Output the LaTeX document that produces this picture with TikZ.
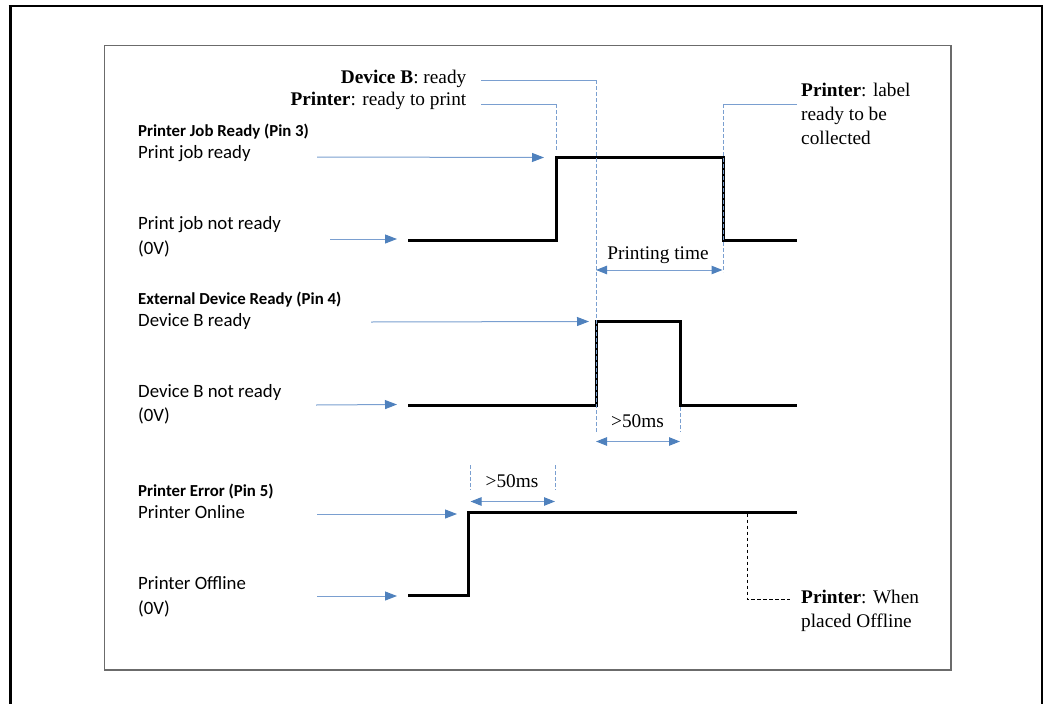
\documentclass[tikz,border=0pt]{standalone}
\usepackage{fontspec}
\setmainfont{Liberation Serif}
\newfontfamily\calfont{Carlito}
\usetikzlibrary{arrows.meta}
\definecolor{lineblue}{HTML}{7A9FD0}
\definecolor{tipblue}{HTML}{4F81BD}
\definecolor{framegray}{HTML}{6B6B6B}
\begin{document}
\begin{tikzpicture}[x=1pt,y=-1pt,
  sig/.style={line width=3pt, black, line join=miter},
  pointer/.style={lineblue, line width=1pt, -{Triangle[length=12pt,width=9pt,color=tipblue]}},
  span/.style={lineblue, line width=1pt, {Triangle[length=11pt,width=8.5pt,color=tipblue]}-{Triangle[length=11pt,width=8.5pt,color=tipblue]}},
  guide/.style={lineblue, line width=0.8pt, dash pattern=on 3.5pt off 2.5pt},
  lead/.style={lineblue, line width=0.8pt},
  offlead/.style={black, line width=0.8pt, dash pattern=on 3.5pt off 2.5pt},
  head/.style={inner sep=0pt, anchor=base west, font=\calfont\bfseries\fontsize{16.8}{19}\selectfont},
  lvl/.style={inner sep=0pt, anchor=base west, font=\calfont\fontsize{18.8}{22}\selectfont},
  note/.style={inner sep=0pt, font=\fontsize{19.3}{24}\selectfont},
  ]
\useasboundingbox (0,0) rectangle (1044,704);
% outer page border
\draw[black, line width=3pt] (10,704) -- (10,6);
\draw[black, line width=2.5pt] (8.5,6) -- (1042,6);
\draw[black, line width=1.2pt] (1042,5) -- (1042,704);
% inner frame
\draw[framegray, line width=1.2pt] (104.7,45.7) rectangle (951,670);

% ---------- left labels ----------
\node[head] (h3) at (138,136) {Printer Job Ready (Pin 3)};
\node[lvl] (pjr) at (138,158.3) {Print job ready};
\node[lvl] (pjn) at (138,229.5) {Print job not ready};
\node[lvl] (z3) at (138,254.5) {(0V)};
\node[head] (h4) at (138,304.3) {External Device Ready (Pin 4)};
\node[lvl] (dbr) at (138,326.7) {Device B ready};
\node[lvl] (dbn) at (138,397.3) {Device B not ready};
\node[lvl] (z4) at (138,421.7) {(0V)};
\node[head] (h5) at (138,496.7) {Printer Error (Pin 5)};
\node[lvl] (pon) at (138,518.3) {Printer Online};
\node[lvl] (poff) at (138,589.3) {Printer Offline};
\node[lvl] (z5) at (138,614.5) {(0V)};

% ---------- signals ----------
\coordinate (s3a) at (408,240);
\coordinate (s3b) at (556,240);
\coordinate (s3c) at (556,157);
\coordinate (s3d) at (723,157);
\coordinate (s3e) at (723,240);
\coordinate (s3f) at (797,240);
\draw[sig] (s3a) -- (s3b) -- (s3c) -- (s3d) -- (s3e) -- (s3f);

\coordinate (s4a) at (408,405);
\coordinate (s4b) at (596,405);
\coordinate (s4c) at (596,321.5);
\coordinate (s4d) at (680,321.5);
\coordinate (s4e) at (680,405);
\coordinate (s4f) at (797,405);
\draw[sig] (s4a) -- (s4b) -- (s4c) -- (s4d) -- (s4e) -- (s4f);

\coordinate (s5a) at (408,595);
\coordinate (s5b) at (468,595);
\coordinate (s5c) at (468,512);
\coordinate (s5d) at (797,512);
\draw[sig] (s5a) -- (s5b) -- (s5c) -- (s5d);

% ---------- pointer arrows ----------
\coordinate (a1s) at (317,157);   \coordinate (a1e) at (544,157.5);
\coordinate (a2s) at (330,239);   \coordinate (a2e) at (397,239);
\coordinate (a3s) at (371,322);   \coordinate (a3e) at (589,321.5);
\coordinate (a4s) at (316,405);   \coordinate (a4e) at (397,404.5);
\coordinate (a5s) at (317,514);   \coordinate (a5e) at (457,514);
\coordinate (a6s) at (317,596);   \coordinate (a6e) at (397,596);
\draw[pointer] (a1s) -- (a1e);
\draw[pointer] (a2s) -- (a2e);
\draw[pointer] (a3s) -- (a3e);
\draw[pointer] (a4s) -- (a4e);
\draw[pointer] (a5s) -- (a5e);
\draw[pointer] (a6s) -- (a6e);

% ---------- annotations (serif) ----------
\node[note, anchor=base east] (devb) at (466.5,83.3) {\textbf{Device B}: ready};
\node[note, anchor=base east] (prp) at (466.5,105.3) {\textbf{Printer}: ready to print};
\node[note, anchor=north west, align=left] (lbl) at (801,83) {\textbf{Printer}: label\\ready to be\\collected};
\node[note, anchor=north west, align=left] (off) at (801,590) {\textbf{Printer}: When\\placed Offline};
\node[note, anchor=base] (ptime) at (658,259.3) {Printing time};
\node[note, anchor=base] (ms4) at (637.5,427.3) {>50ms};
\node[note, anchor=base] (ms5) at (512,487.3) {>50ms};

% leader lines
\coordinate (lp1) at (481,104);  \coordinate (lp2) at (556,104);  \coordinate (lp3) at (556,152);
\draw[lead] (lp1) -- (lp2);
\draw[guide] (lp2) -- (lp3);
\coordinate (ld1) at (481,80);   \coordinate (ld2) at (596,80);   \coordinate (ld3) at (596,432);
\draw[lead] (ld1) -- (ld2);
\draw[guide] (ld2) -- (ld3);
\coordinate (ll1) at (797,104);  \coordinate (ll2) at (723,104);  \coordinate (ll3) at (723,272);
\draw[lead] (ll1) -- (ll2);
\draw[guide] (ll2) -- (ll3);
\coordinate (lm1) at (680,407);  \coordinate (lm2) at (680,432);
\draw[guide] (lm1) -- (lm2);
\coordinate (lq1) at (470.5,465); \coordinate (lq2) at (470.5,490);
\coordinate (lr1) at (555,465);   \coordinate (lr2) at (555,490);
\draw[guide] (lq1) -- (lq2);
\draw[guide] (lr1) -- (lr2);

% span arrows
\coordinate (t1) at (596,270);  \coordinate (t2) at (722.5,270);
\draw[span] (t1) -- (t2);
\coordinate (u1) at (596,441.5);  \coordinate (u2) at (680,441.5);
\draw[span] (u1) -- (u2);
\coordinate (v1) at (470.5,501.5);  \coordinate (v2) at (555,501.5);
\draw[span] (v1) -- (v2);

% offline leader
\coordinate (o1) at (747,513.5);  \coordinate (o2) at (747,599.5);  \coordinate (o3) at (790,599.5);
\draw[offlead] (o1) -- (o2) -- (o3);
\end{tikzpicture}
\end{document}
